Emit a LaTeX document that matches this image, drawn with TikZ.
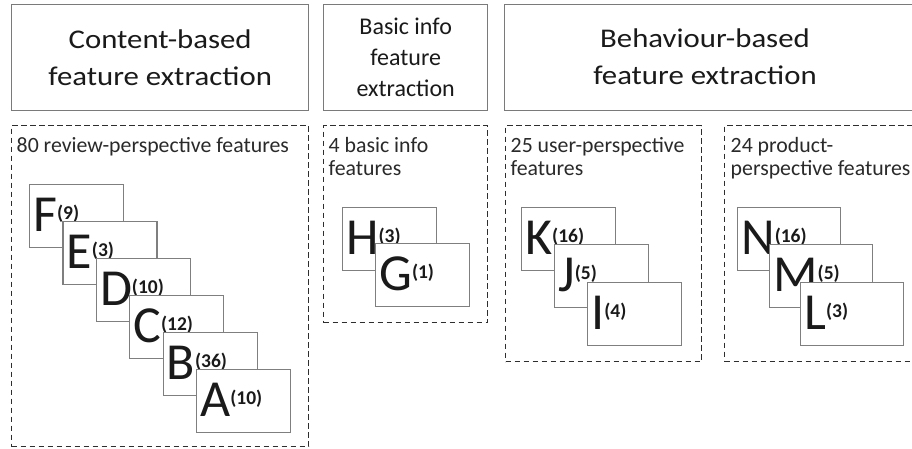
\documentclass[tikz,border=0pt]{standalone}
\usepackage{fontspec}
\setmainfont{Carlito}
\definecolor{boxgray}{HTML}{7A7A7A}
\definecolor{cardgray}{HTML}{7F7F7F}
\definecolor{dashgray}{HTML}{2E2E2E}
\definecolor{txtdark}{HTML}{1A1A1A}
\definecolor{labtxt}{HTML}{2A2A2A}
\newcommand{\cardtxt}[2]{{\fontsize{52}{52}\selectfont #1}\raisebox{12pt}{\fontsize{19.5}{19.5}\selectfont\bfseries(#2)}}
\tikzset{
  titlebox/.style={draw=boxgray, line width=1.4pt, anchor=north west, inner sep=0pt, minimum height=106pt},
  titletext/.style={align=center, inner sep=0pt, text=txtdark, font=\fontsize{27}{36.6}\selectfont, xscale=1.14, transform shape},
  titletextB/.style={align=center, inner sep=0pt, text=txtdark, font=\fontsize{24}{31}\selectfont},
  groupbox/.style={draw=dashgray, line width=1.4pt, dash pattern=on 5.5pt off 3.5pt, anchor=north west, inner sep=0pt},
  grouplabel/.style={anchor=base west, inner sep=0pt, align=left, text=labtxt, font=\fontsize{21.8}{23.5}\selectfont},
  card/.style={draw=cardgray, line width=1.2pt, fill=white, anchor=north west, minimum width=94pt, minimum height=63pt, inner sep=0pt,
    label={[anchor=base west, inner sep=0pt, xshift=4pt, yshift=-47.5pt, text=txtdark]north west:#1}},
  wcard/.style={card=#1, minimum width=103pt},
}
\begin{document}
\begin{tikzpicture}[x=1pt,y=-1pt]
\useasboundingbox (0,0) rectangle (912,448);
\clip (0,0) rectangle (912,448);
\fill[white] (0,0) rectangle (912,448);

% title boxes
\node[titlebox, minimum width=297pt] (t1) at (11,4) {};
\node[titletext] (t1txt) at (t1.center) {Content-based\\feature extraction};
\node[titlebox, minimum width=164pt] (t2) at (323,4) {};
\node[titletextB] (t2txt) at (t2.center) {Basic info\\feature\\extraction};
\node[titlebox, minimum width=420pt] (t3) at (504,4) {};
\node[titletext] (t3txt) at (705,57) {Behaviour-based\\feature extraction};

% group boxes
\node[groupbox, minimum width=297pt, minimum height=321pt] (gA) at (11,125) {};
\node[groupbox, minimum width=164pt, minimum height=197pt] (gB) at (323,125) {};
\node[groupbox, minimum width=196pt, minimum height=236pt] (gC) at (505,125) {};
\node[groupbox, minimum width=210pt, minimum height=236pt] (gD) at (724,125) {};

\node[grouplabel] (lA) at ([shift={(5.5,27)}]gA.north west) {80 review-perspective features};
\node[grouplabel] (lB) at ([shift={(5.5,50.5)}]gB.north west) {4 basic info\\features};
\node[grouplabel] (lC) at ([shift={(5.5,50.5)}]gC.north west) {25 user-perspective\\features};
\node[grouplabel] (lD) at ([shift={(6.5,50.5)}]gD.north west) {24 product-\\perspective features};

% review-perspective cards
\node[card={\cardtxt{F}{9}}]  (F) at (29,184) {};
\node[card={\cardtxt{E}{3}}]  (E) at (62.4,221) {};
\node[card={\cardtxt{D}{10}}] (D) at (95.8,258) {};
\node[card={\cardtxt{C}{12}}] (C) at (129.2,295) {};
\node[card={\cardtxt{B}{36}}] (B) at (162.6,332) {};
\node[card={\cardtxt{A}{10}}] (A) at (196,369) {};

% basic info cards
\node[card={\cardtxt{H}{3}}] (H) at (342,207) {};
\node[card={\cardtxt{G}{1}}] (G) at (375,243) {};

% user-perspective cards
\node[card={\cardtxt{K}{16}}] (K) at (521,207) {};
\node[card={\cardtxt{J}{5}}]  (J) at (554,244) {};
\node[card={\cardtxt{I}{4}}]  (I) at (587,282) {};

% product-perspective cards
\node[wcard={\cardtxt{N}{16}}] (N) at (737,207) {};
\node[wcard={\cardtxt{M}{5}}]  (M) at (769,244) {};
\node[wcard={\cardtxt{L}{3}}]  (L) at (800,282) {};
\end{tikzpicture}
\end{document}
